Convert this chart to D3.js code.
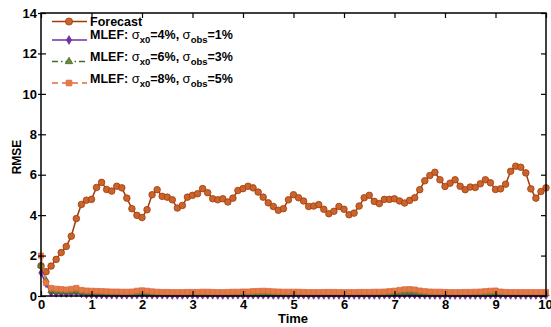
<!DOCTYPE html>
<html><head><meta charset="utf-8">
<script src="https://cdn.jsdelivr.net/npm/d3@7"></script>
<style>
html,body{margin:0;padding:0;background:#fff;}
svg{display:block;}
text{font-family:"Liberation Sans",Arial,Helvetica,sans-serif;}
</style></head>
<body><svg id="c" width="551" height="327"></svg>
<script>
const xTicks = [0,1,2,3,4,5,6,7,8,9,10];
const yTicks = [0,2,4,6,8,10,12,14];
const times = d3.range(0, 101).map(i => i / 10);
const forecast = [1.5,
 1.20,1.48,1.81,2.15,2.45,2.96,3.83,4.53,4.74,4.78,
 5.37,5.62,5.27,5.19,5.43,5.35,4.84,4.32,3.99,3.88,
 4.27,5.01,5.26,4.93,4.89,4.76,4.35,4.48,4.89,4.98,
 5.06,5.31,5.11,4.81,4.76,4.81,4.65,4.84,5.22,5.31,
 5.43,5.35,5.14,4.89,4.61,4.43,4.24,4.32,4.76,5.01,
 4.86,4.70,4.43,4.45,4.52,4.29,4.07,4.19,4.43,4.29,
 4.02,4.10,4.45,4.86,4.98,4.68,4.57,4.78,4.78,4.81,
 4.70,4.60,4.73,4.86,5.26,5.70,5.96,6.12,5.75,5.42,
 5.58,5.75,5.43,5.26,5.39,5.37,5.55,5.75,5.60,5.27,
 5.30,5.53,6.17,6.42,6.37,6.09,5.30,4.84,5.17,5.35];
const mlef4 = [1.15,
 0.60,0.15,0.12,0.12,0.11,0.12,0.13,0.10,0.06,0.05,
 0.04,0.04,0.03,0.03,0.03,0.03,0.03,0.03,0.04,0.04,
 0.04,0.03,0.03,0.03,0.03,0.02,0.02,0.02,0.03,0.03,
 0.03,0.03,0.03,0.03,0.02,0.02,0.02,0.03,0.03,0.03,
 0.03,0.03,0.03,0.03,0.03,0.02,0.02,0.02,0.02,0.03,
 0.03,0.03,0.02,0.02,0.02,0.02,0.02,0.02,0.02,0.02,
 0.02,0.02,0.02,0.02,0.02,0.02,0.02,0.03,0.03,0.03,
 0.04,0.05,0.05,0.04,0.03,0.03,0.02,0.02,0.02,0.02,
 0.02,0.02,0.02,0.02,0.02,0.02,0.02,0.02,0.03,0.03,
 0.03,0.02,0.02,0.02,0.02,0.02,0.02,0.02,0.02,0.02];
const mlef6 = [1.50,
 0.78,0.26,0.22,0.22,0.21,0.22,0.24,0.19,0.17,0.16,
 0.15,0.15,0.14,0.14,0.14,0.13,0.13,0.13,0.14,0.15,
 0.15,0.14,0.13,0.12,0.12,0.11,0.11,0.11,0.11,0.11,
 0.11,0.11,0.11,0.11,0.10,0.10,0.10,0.11,0.11,0.11,
 0.12,0.12,0.12,0.13,0.13,0.12,0.12,0.11,0.11,0.11,
 0.11,0.11,0.10,0.10,0.10,0.10,0.10,0.10,0.10,0.10,
 0.10,0.10,0.10,0.10,0.10,0.10,0.11,0.11,0.12,0.13,
 0.16,0.18,0.19,0.18,0.15,0.13,0.12,0.11,0.11,0.11,
 0.10,0.10,0.10,0.10,0.10,0.11,0.11,0.12,0.13,0.14,
 0.12,0.11,0.11,0.10,0.10,0.10,0.10,0.10,0.10,0.10];
const mlef8 = [2.00,
 0.65,0.40,0.36,0.34,0.32,0.35,0.40,0.30,0.27,0.26,
 0.25,0.24,0.23,0.22,0.22,0.21,0.21,0.22,0.26,0.28,
 0.26,0.23,0.21,0.20,0.20,0.19,0.19,0.19,0.20,0.20,
 0.20,0.21,0.21,0.20,0.19,0.19,0.20,0.21,0.21,0.22,
 0.22,0.24,0.25,0.26,0.25,0.23,0.22,0.21,0.21,0.21,
 0.21,0.20,0.19,0.19,0.19,0.20,0.20,0.20,0.19,0.19,
 0.19,0.19,0.20,0.20,0.20,0.21,0.21,0.22,0.24,0.26,
 0.30,0.33,0.34,0.32,0.27,0.24,0.22,0.21,0.21,0.20,
 0.19,0.19,0.19,0.20,0.20,0.21,0.22,0.24,0.26,0.27,
 0.22,0.20,0.19,0.19,0.19,0.19,0.19,0.19,0.19,0.19];

const series = [
  {values: forecast, color:"#a33a08", fill:"#c8642e", dash:null, sym:d3.symbolCircle, size:34, label:[]},
  {values: mlef4, color:"#7030a0", fill:"#7030a0", dash:null, sym:d3.symbolDiamond, size:16, label:["4%","1%"]},
  {values: mlef6, color:"#4a6a28", fill:"#6a8a3a", dash:"6,3,1.5,3", sym:d3.symbolTriangle, size:18, label:["6%","3%"]},
  {values: mlef8, color:"#e0693a", fill:"#e27a4a", dash:"6,4", sym:d3.symbolSquare, size:26, label:["8%","5%"]}
];

const svg = d3.select("#c");
const L = 41, R = 546, T = 13, B = 296;
const x = d3.scaleLinear().domain([0,10]).range([L,R]);
const y = d3.scaleLinear().domain([0,14]).range([B,T]);

// data
const line = d3.line().x((d,i)=>x(times[i])).y(d=>y(d));
series.forEach(s=>{
  svg.append("path").attr("d", line(s.values)).attr("fill","none")
    .attr("stroke", s.color).attr("stroke-width", 1.5)
    .attr("stroke-dasharray", s.dash);
  svg.append("g").selectAll("path").data(s.values).join("path")
    .attr("transform",(d,i)=>`translate(${x(times[i])},${y(d)})`)
    .attr("d", d3.symbol().type(s.sym).size(s.size))
    .attr("fill", s.fill).attr("stroke", s.color).attr("stroke-width", 0.8);
});

// axes
const fs = "13px";
const gx = svg.append("g").attr("transform",`translate(0,${B})`)
  .call(d3.axisBottom(x).tickValues(xTicks).tickSizeInner(-5).tickSizeOuter(0).tickPadding(4));
const gxt = svg.append("g").attr("transform",`translate(0,${T})`)
  .call(d3.axisTop(x).tickValues(xTicks).tickSizeInner(-5).tickSizeOuter(0).tickFormat(""));
const gy = svg.append("g").attr("transform",`translate(${L},0)`)
  .call(d3.axisLeft(y).tickValues(yTicks).tickSizeInner(-5).tickSizeOuter(0).tickPadding(4));
const gy2 = svg.append("g").attr("transform",`translate(${L},0)`)
  .call(d3.axisLeft(y).tickValues(yTicks).tickSizeInner(3).tickSizeOuter(0).tickFormat(""));
const gyr = svg.append("g").attr("transform",`translate(${R},0)`)
  .call(d3.axisRight(y).tickValues(yTicks).tickSizeInner(-5).tickSizeOuter(0).tickFormat(""));
[gx,gxt,gy,gy2,gyr].forEach(g=>{
  g.select(".domain").remove();
  g.selectAll("line").attr("stroke","#000").attr("stroke-width",1.2);
  g.selectAll("text").attr("font-size",fs).attr("font-weight","bold").attr("fill","#000")
   .attr("font-family",'"Liberation Sans",Arial,sans-serif');
});
gx.selectAll(".tick text").filter(d=>d===10).attr("dx",-1);
svg.append("rect").attr("x",L).attr("y",T).attr("width",R-L).attr("height",B-T)
  .attr("fill","none").attr("stroke","#000").attr("stroke-width",1.5);

svg.append("text").attr("x",293).attr("y",323).attr("text-anchor","middle")
  .attr("font-size","13px").attr("font-weight","bold").text("Time");
svg.append("text").attr("transform","translate(21,157) rotate(-90)").attr("text-anchor","middle")
  .attr("font-size","12px").attr("font-weight","bold").text("RMSE");

// legend
const legY = [21.5, 40, 61.5, 83];
const baseY = [26, 39, 61, 82.5];
series.forEach((s,k)=>{
  const g = svg.append("g");
  g.append("line").attr("x1",52).attr("x2",87).attr("y1",legY[k]).attr("y2",legY[k])
    .attr("stroke",s.color).attr("stroke-width",1.5).attr("stroke-dasharray",s.dash);
  g.append("path").attr("transform",`translate(69,${legY[k]})`)
    .attr("d", d3.symbol().type(s.sym).size(s.size+6))
    .attr("fill",s.fill).attr("stroke",s.color).attr("stroke-width",0.8);
  const t = g.append("text").attr("x",90).attr("y",baseY[k]).attr("font-size","12.5px").attr("font-weight","bold");
  if (k===0) { t.text("Forecast"); return; }
  t.append("tspan").text("MLEF: ");
  t.append("tspan").attr("font-weight","normal").attr("font-size","13px").text("σ");
  t.append("tspan").attr("font-size","9.5px").attr("dy",4).text("x0");
  t.append("tspan").attr("dy",-4).text("=" + s.label[0] + ", ");
  t.append("tspan").attr("font-weight","normal").attr("font-size","13px").text("σ");
  t.append("tspan").attr("font-size","9.5px").attr("dy",4).text("obs");
  t.append("tspan").attr("dy",-4).text("=" + s.label[1]);
});
</script></body></html>
